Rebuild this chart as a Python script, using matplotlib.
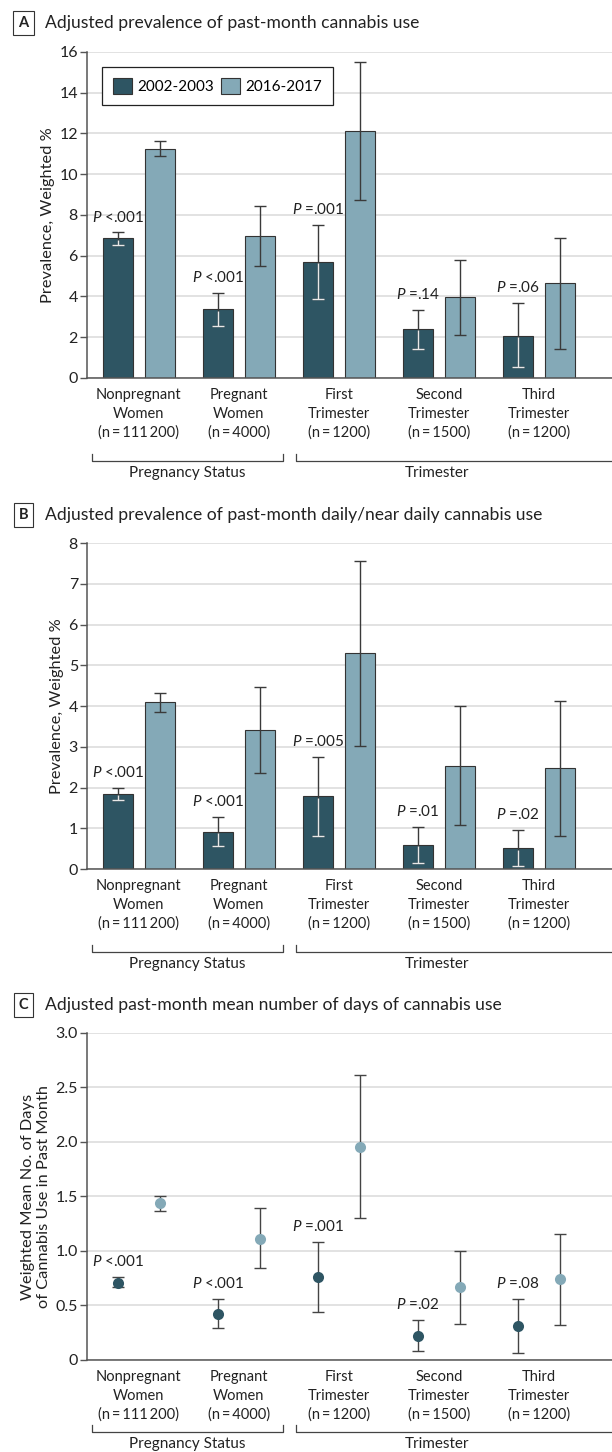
import numpy as np
import matplotlib
matplotlib.use("Agg")
import matplotlib.pyplot as plt
from matplotlib.patches import Patch

plt.rcParams['font.family'] = ['Lato', 'DejaVu Sans']
plt.rcParams['mathtext.fontset'] = 'custom'
plt.rcParams['mathtext.it'] = 'Lato:italic'
plt.rcParams['mathtext.rm'] = 'Lato'

# categories
groups = ["Nonpregnant\nWomen\n(n\u2009=\u2009111\u2009200)",
          "Pregnant\nWomen\n(n\u2009=\u20094000)",
          "First\nTrimester\n(n\u2009=\u20091200)",
          "Second\nTrimester\n(n\u2009=\u20091500)",
          "Third\nTrimester\n(n\u2009=\u20091200)"]
periods = ["2002-2003", "2016-2017"]

# A: past-month use (%)
a_2002 = [6.85, 3.37, 5.70, 2.40, 2.06]
a_2002_lo = [6.54, 2.53, 3.86, 1.44, 0.52]
a_2002_hi = [7.14, 4.18, 7.50, 3.35, 3.68]
a_2016 = [11.24, 6.96, 12.12, 3.95, 4.64]
a_2016_lo = [10.88, 5.49, 8.73, 2.12, 1.41]
a_2016_hi = [11.62, 8.43, 15.52, 5.78, 6.85]
a_p = ["<.001", "<.001", "=.001", "=.14", "=.06"]
a_ticks = ["0", "2", "4", "6", "8", "10", "12", "14", "16"]

# B: daily/near daily use (%)
b_2002 = [1.85, 0.91, 1.78, 0.60, 0.51]
b_2002_lo = [1.69, 0.57, 0.82, 0.16, 0.07]
b_2002_hi = [1.99, 1.27, 2.75, 1.03, 0.96]
b_2016 = [4.09, 3.41, 5.30, 2.53, 2.47]
b_2016_lo = [3.86, 2.35, 3.02, 1.08, 0.80]
b_2016_hi = [4.33, 4.47, 7.57, 3.99, 4.13]
b_p = ["<.001", "<.001", "=.005", "=.01", "=.02"]
b_ticks = ["0", "1", "2", "3", "4", "5", "6", "7", "8"]

# C: mean number of days
c_2002 = [0.71, 0.42, 0.76, 0.22, 0.31]
c_2002_lo = [0.67, 0.29, 0.44, 0.08, 0.06]
c_2002_hi = [0.76, 0.56, 1.08, 0.37, 0.56]
c_2016 = [1.44, 1.11, 1.95, 0.67, 0.74]
c_2016_lo = [1.37, 0.84, 1.30, 0.33, 0.32]
c_2016_hi = [1.50, 1.39, 2.61, 1.00, 1.16]
c_p = ["<.001", "<.001", "=.001", "=.02", "=.08"]
c_ticks = ["0", "0.5", "1.0", "1.5", "2.0", "2.5", "3.0"]

dark = '#2e5563'
light = '#84a9b7'
errc = '#3a3a3a'
txt = '#222222'

fig = plt.figure(figsize=(6.12, 14.52), dpi=100)


def panel(rect, letter, title, title_y, v1, lo1, hi1, v2, lo2, hi2, pv,
          ymax, ticklabels, ylabel, kind, brk):
    ax = fig.add_axes(rect)
    x = np.arange(len(groups))
    v1, lo1, hi1 = np.array(v1), np.array(lo1), np.array(hi1)
    v2, lo2, hi2 = np.array(v2), np.array(lo2), np.array(hi2)
    x1 = x - 0.21
    x2 = x + 0.21
    if kind == 'bar':
        ax.bar(x1, v1, 0.30, color=dark, edgecolor='#333333', linewidth=0.8, zorder=2)
        ax.bar(x2, v2, 0.30, color=light, edgecolor='#333333', linewidth=0.8, zorder=2)
        ax.errorbar(x1, v1, yerr=[v1 - lo1, hi1 - v1], fmt='none', ecolor=errc,
                    elinewidth=1.0, capsize=4.3, capthick=1.0, zorder=3)
        # part of the error bar inside the dark bar is light
        ax.vlines(x1, lo1, v1 - 0.004 * ymax, color='#e8e8e8', linewidth=1.0, zorder=4)
        ax.plot(x1, lo1, linestyle='none', marker='_', markersize=8.6,
                markeredgewidth=1.0, color='#e8e8e8', zorder=4)
        ax.errorbar(x2, v2, yerr=[v2 - lo2, hi2 - v2], fmt='none', ecolor=errc,
                    elinewidth=1.0, capsize=4.3, capthick=1.0, zorder=3)
    else:
        ax.errorbar(x1, v1, yerr=[v1 - lo1, hi1 - v1], fmt='none', ecolor='#444444',
                    elinewidth=1.0, capsize=4.3, capthick=1.0, zorder=3)
        ax.errorbar(x2, v2, yerr=[v2 - lo2, hi2 - v2], fmt='none', ecolor='#444444',
                    elinewidth=1.0, capsize=4.3, capthick=1.0, zorder=3)
        ax.plot(x1, v1, 'o', color=dark, markersize=8, markeredgewidth=0, zorder=4)
        ax.plot(x2, v2, 'o', color=light, markersize=8, markeredgewidth=0, zorder=4)

    for i in range(len(groups)):
        ax.annotate(r'$P$ ' + pv[i], (x1[i], hi1[i]), xytext=(0, 11),
                    textcoords='offset points', ha='center', va='center',
                    fontsize=11, color=txt, zorder=5)

    ax.set_xlim(-0.52, 4.73)
    ax.set_ylim(0, ymax)
    ax.set_yticks(np.linspace(0, ymax, len(ticklabels)))
    ax.set_yticklabels(ticklabels)
    ax.set_xticks(x)
    ax.set_xticklabels(groups, fontsize=10.5, linespacing=1.45, color=txt)
    ax.tick_params(axis='x', length=0, pad=7)
    ax.tick_params(axis='y', length=5, width=1, color='#555555', labelsize=11.5,
                   labelcolor=txt, pad=1.5)
    ax.grid(axis='y', color='#dddddd', linewidth=1.2, zorder=0)
    ax.set_axisbelow(True)
    for s in ['top', 'right']:
        ax.spines[s].set_visible(False)
    for s in ['left', 'bottom']:
        ax.spines[s].set_color('#555555')
        ax.spines[s].set_linewidth(1.1)
    ax.set_ylabel(ylabel, fontsize=11.8, color=txt, labelpad=3, linespacing=1.2)

    # group brackets under the category labels
    tr = ax.get_xaxis_transform()
    yb, yt, ytx = brk
    ax.plot([-0.47, -0.47, 1.44, 1.44], [yt, yb, yb, yt], transform=tr,
            color='#444444', linewidth=0.9, clip_on=False)
    ax.plot([1.57, 1.57, 4.80], [yt, yb, yb], transform=tr,
            color='#444444', linewidth=0.9, clip_on=False)
    ax.text(0.48, ytx, 'Pregnancy Status', transform=tr, ha='center', va='center',
            fontsize=11, color=txt)
    ax.text(2.98, ytx, 'Trimester', transform=tr, ha='center', va='center',
            fontsize=11, color=txt)

    fig.text(0.0384, title_y, letter, ha='center', va='center', fontsize=10.5,
             fontweight='bold', color=txt,
             bbox=dict(boxstyle='square,pad=0.35', fc='white', ec='#333333', lw=0.8))
    fig.text(0.0735, title_y, title, ha='left', va='center', fontsize=12.6,
             color=txt)
    return ax


axA = panel([0.142, 0.7397, 0.858, 0.2245], 'A',
            'Adjusted prevalence of past-month cannabis use', 0.9842,
            a_2002, a_2002_lo, a_2002_hi, a_2016, a_2016_lo, a_2016_hi, a_p,
            16, a_ticks, 'Prevalence, Weighted %', 'bar', (-0.256, -0.233, -0.291))

handles = [Patch(facecolor=dark, edgecolor='#333333', linewidth=0.8),
           Patch(facecolor=light, edgecolor='#333333', linewidth=0.8)]
leg = axA.legend(handles, periods, loc='upper left', bbox_to_anchor=(0.029, 0.954),
                 borderaxespad=0, ncol=2, fontsize=11, handlelength=1.25,
                 handleheight=1.25, handletextpad=0.35, columnspacing=0.45,
                 fancybox=False, framealpha=1, edgecolor='#222222', borderpad=0.7)
leg.get_frame().set_linewidth(0.9)

panel([0.142, 0.4015, 0.858, 0.2245], 'B',
      'Adjusted prevalence of past-month daily/near daily cannabis use', 0.6453,
      b_2002, b_2002_lo, b_2002_hi, b_2016, b_2016_lo, b_2016_hi, b_p,
      8, b_ticks, 'Prevalence, Weighted %', 'bar', (-0.256, -0.233, -0.291))

panel([0.142, 0.0634, 0.858, 0.2252], 'C',
      'Adjusted past-month mean number of days of cannabis use', 0.3079,
      c_2002, c_2002_lo, c_2002_hi, c_2016, c_2016_lo, c_2016_hi, c_p,
      3.0, c_ticks, 'Weighted Mean No. of Days\nof Cannabis Use in Past Month',
      'dot', (-0.220, -0.199, -0.257))

fig.savefig('out.png', dpi=100)
